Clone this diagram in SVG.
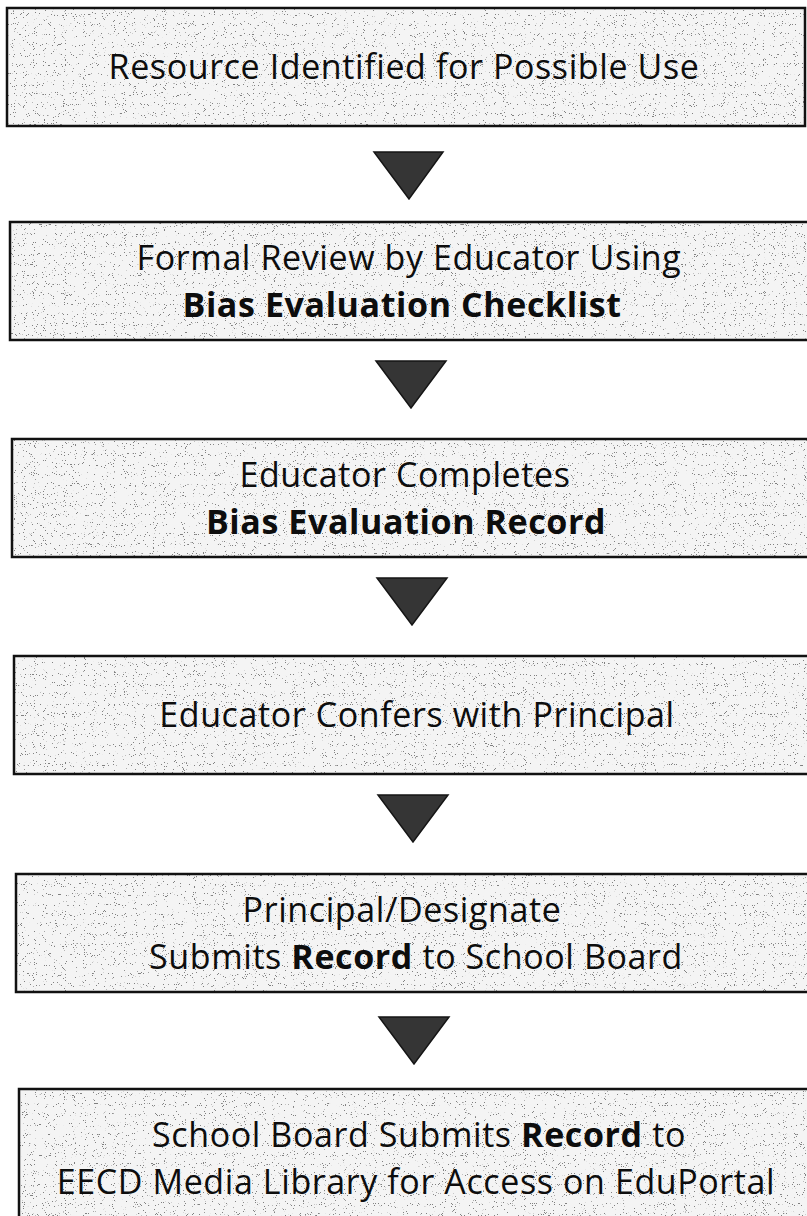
<svg xmlns="http://www.w3.org/2000/svg" width="807" height="1216" viewBox="0 0 807 1216">
  <style>
    .box { fill: #f4f4f4; filter: url(#screen); }
    .edge { fill: none; stroke: #111; stroke-width: 2.5; }
    .lbl { font-family: "Open Sans", "Noto Sans", sans-serif; font-size: 34px; letter-spacing: 0.6px; fill: #0d0d0d; text-anchor: middle; }
    .b { font-weight: bold; }
    .arrow { fill: #353535; stroke: #151515; stroke-width: 1.5; stroke-linejoin: miter; }
  </style>
  <defs>
    <!-- light grey halftone screen behind each step -->
    <filter id="screen" x="0" y="0" width="1" height="1" color-interpolation-filters="sRGB">
      <feTurbulence type="fractalNoise" baseFrequency="1.1" numOctaves="1" seed="7" result="n"/>
      <feColorMatrix in="n" type="matrix" values="0 0 0 0 0.5  0 0 0 0 0.5  0 0 0 0 0.5  -30 0 0 0 9.9" result="dots"/>
      <feComposite in="dots" in2="SourceGraphic" operator="atop"/>
    </filter>
  </defs>
  <rect width="807" height="1216" fill="#ffffff"/>

  <g id="connectors">
    <polygon class="arrow" points="374,152 443,152 409,199"/>
    <polygon class="arrow" points="376,361 446,361 411,408"/>
    <polygon class="arrow" points="377,578 447,578 412,625"/>
    <polygon class="arrow" points="378,795 448,795 413,842"/>
    <polygon class="arrow" points="379,1017 449,1017 414,1064"/>
  </g>

  <g id="step1">
    <rect class="box" x="7" y="8" width="798" height="118"/>
    <rect class="edge" x="7" y="8" width="798" height="118"/>
    <text class="lbl" x="404" y="79">Resource Identified for Possible Use</text>
  </g>

  <g id="step2">
    <rect class="box" x="10" y="222" width="810" height="118"/>
    <rect class="edge" x="10" y="222" width="810" height="118"/>
    <text class="lbl" x="409" y="270">Formal Review by Educator Using</text>
    <text class="lbl b" x="402" y="317">Bias Evaluation Checklist</text>
  </g>

  <g id="step3">
    <rect class="box" x="12" y="439" width="810" height="118"/>
    <rect class="edge" x="12" y="439" width="810" height="118"/>
    <text class="lbl" x="405" y="487">Educator Completes</text>
    <text class="lbl b" x="406" y="534">Bias Evaluation Record</text>
  </g>

  <g id="step4">
    <rect class="box" x="14" y="656" width="810" height="118"/>
    <rect class="edge" x="14" y="656" width="810" height="118"/>
    <text class="lbl" x="417" y="727">Educator Confers with Principal</text>
  </g>

  <g id="step5">
    <rect class="box" x="16" y="874" width="810" height="118"/>
    <rect class="edge" x="16" y="874" width="810" height="118"/>
    <text class="lbl" x="402" y="922">Principal/Designate</text>
    <text class="lbl" x="416" y="969">Submits <tspan class="b">Record</tspan> to School Board</text>
  </g>

  <g id="step6">
    <rect class="box" x="19" y="1089" width="810" height="140"/>
    <rect class="edge" x="19" y="1089" width="810" height="140"/>
    <text class="lbl" x="419" y="1147">School Board Submits <tspan class="b">Record</tspan> to</text>
    <text class="lbl" x="416" y="1194">EECD Media Library for Access on EduPortal</text>
  </g>
</svg>
